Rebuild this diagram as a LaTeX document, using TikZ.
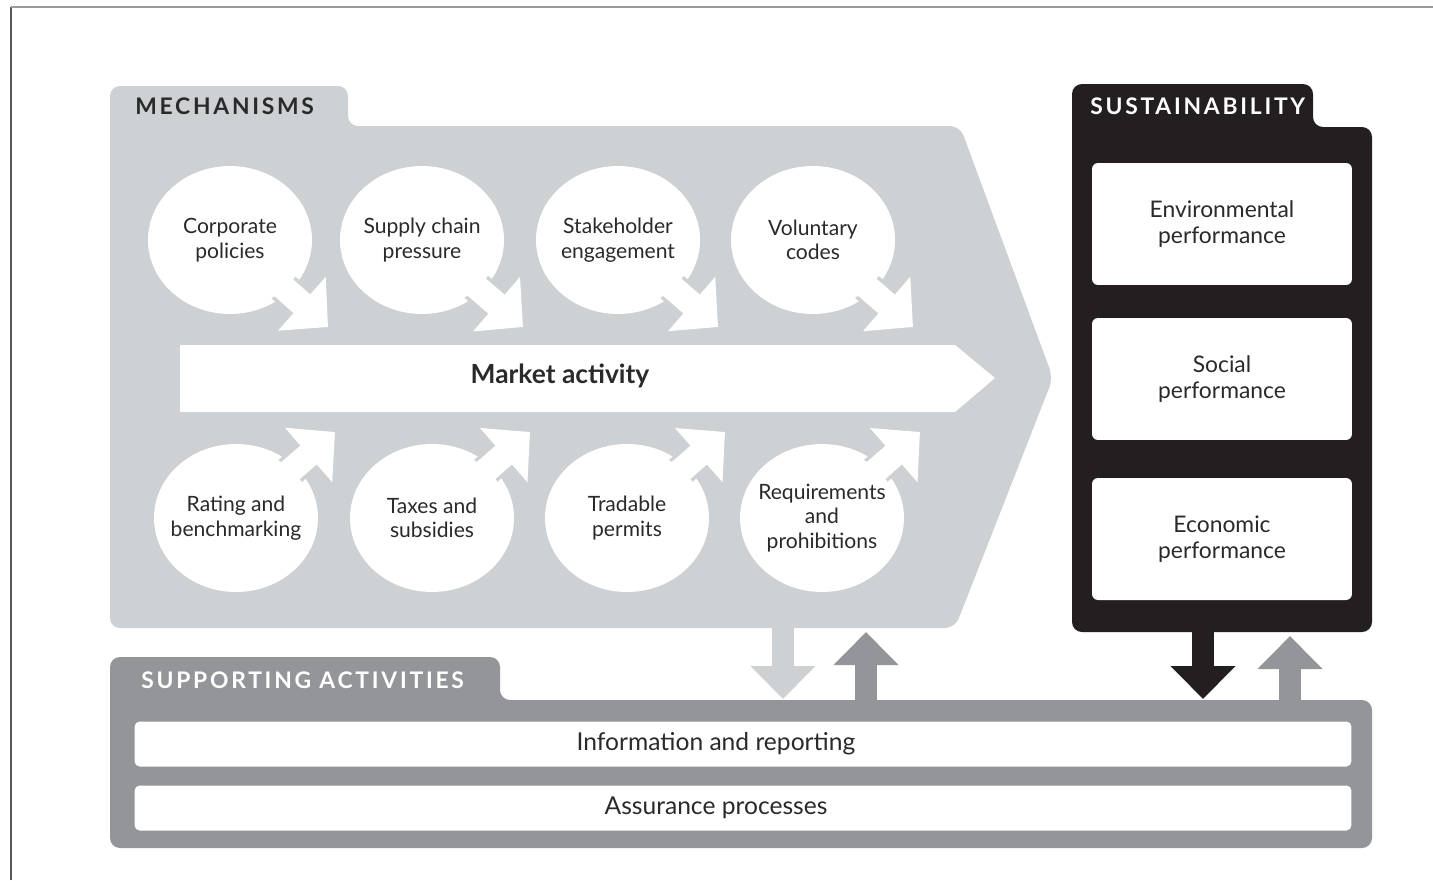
\documentclass[tikz,border=0pt]{standalone}
\usepackage{fontspec}
\setmainfont{Lato}
\newfontfamily\capsfont[LetterSpace=12]{Lato}
\usetikzlibrary{positioning,shapes.geometric,arrows.meta}
\definecolor{mechgrey}{HTML}{CDD1D3}
\definecolor{suppgrey}{HTML}{949598}
\definecolor{sustblack}{HTML}{231F20}
\definecolor{inkgrey}{HTML}{2A2A2A}
\tikzset{
  bubble/.style={ellipse,fill=white,minimum width=3.28cm,minimum height=2.96cm,inner sep=0pt},
  bubbletext/.style={align=center,inner sep=0pt,text=inkgrey,font=\fontsize{12}{14}\selectfont},
  pushgap/.style={mechgrey,line width=0.64cm,shorten >=0.45cm},
  push/.style={white,line width=0.5cm,-{Triangle[width=1.4cm,length=0.7cm]}},
  perfbox/.style={rectangle,rounded corners=0.12cm,fill=white,minimum width=5.2cm,minimum height=2.44cm,align=center,text=inkgrey,font=\fontsize{13}{14.5}\selectfont},
  barbox/.style={rectangle,rounded corners=0.1cm,fill=white,minimum width=24.34cm,minimum height=0.9cm,text=inkgrey,font=\fontsize{14}{16}\selectfont},
  tabtitle/.style={anchor=west,inner sep=0pt,font=\capsfont\bfseries\fontsize{13}{15}\selectfont},
  bigflow/.style={line width=0.44cm,-{Triangle[width=1.26cm,length=0.66cm]}},
}

\begin{document}
\begin{tikzpicture}[x=0.02cm,y=-0.02cm]
\useasboundingbox (0,0) rectangle (1433,880);
% frame
\draw [black!65,line width=0.04cm] (11,880) -- (11,7);
\draw [black!40,line width=0.04cm] (11,7) -- (1433,7);
% panels
\fill [mechgrey,rounded corners=0.2cm] (110,628) -- (110,86) -- (348,86) -- (348,126) -- (960,126) -- (1053,378) -- (955,628) -- cycle;
\fill [sustblack,rounded corners=0.2cm] (1072,632) -- (1072,84) -- (1313,84) -- (1313,127) -- (1372,127) -- (1372,632) -- cycle;
\fill [suppgrey,rounded corners=0.2cm] (110,848) -- (110,657) -- (500,657) -- (500,700) -- (1372,700) -- (1372,848) -- cycle;
\node [tabtitle,text=inkgrey] (mechtitle) at (135,106) {MECHANISMS};
\node [tabtitle,text=white] (susttitle) at (1090,106) {SUSTAINABILITY};
\node [tabtitle,text=white] (supptitle) at (141,680) {SUPPORTING ACTIVITIES};
% market activity
\fill [white] (180,345) -- (955,345) -- (995,378) -- (955,412) -- (180,412) -- cycle;
\node [text=inkgrey,font=\bfseries\fontsize{15}{17}\selectfont] (market) at (560,376) {Market activity};
% mechanisms
\foreach \i/\x/\y/\tx/\ty/\txt in {1/230/240/328/327/{Corporate\\policies},
  2/422/240/523/327/{Supply chain\\pressure},
  3/618/240/718/327/{Stakeholder\\engagement},
  4/813/240/913/327/{Voluntary\\codes},
  5/236/518/335/432/{Rating and\\benchmarking},
  6/432/518/530/432/{Taxes and\\subsidies},
  7/627/518/725/432/{Tradable\\permits},
  8/822/518/920/432/{Requirements\\and\\prohibitions}}
{
  \node [bubble] (c\i) at (\x,\y) {};
  \coordinate (t\i) at (\tx,\ty);
  \draw [pushgap] (c\i.center) -- (t\i);
  \draw [push] (c\i.center) -- (t\i);
  \fill [white] (c\i.center) ellipse [x radius=1.54cm,y radius=1.38cm];
  \node [bubbletext] (lbl\i) at (c\i) {\txt};
}
% sustainability
\node [perfbox] (env) at (1222,224) {Environmental\\performance};
\node [perfbox] (soc) at (1222,379) {Social\\performance};
\node [perfbox] (eco) at (1222,539) {Economic\\performance};
% supporting activities
\node [barbox] (info) at (743,744) {\hspace*{-1.08cm}Information and reporting};
\node [barbox] (assur) at (743,808) {\hspace*{-1.08cm}Assurance processes};
% links between panels
\coordinate (mechfoot) at (783,628);
\coordinate (mechhead) at (783,699);
\coordinate (suppfoot) at (866,700);
\coordinate (supphead) at (866,632);
\coordinate (sustfoot) at (1203,630);
\coordinate (susthead) at (1203,699);
\coordinate (backfoot) at (1290,700);
\coordinate (backhead) at (1290,636);
\draw [bigflow,mechgrey] (mechfoot) -- (mechhead);
\draw [bigflow,suppgrey] (suppfoot) -- (supphead);
\draw [bigflow,sustblack] (sustfoot) -- (susthead);
\draw [bigflow,suppgrey] (backfoot) -- (backhead);
\end{tikzpicture}
\end{document}
